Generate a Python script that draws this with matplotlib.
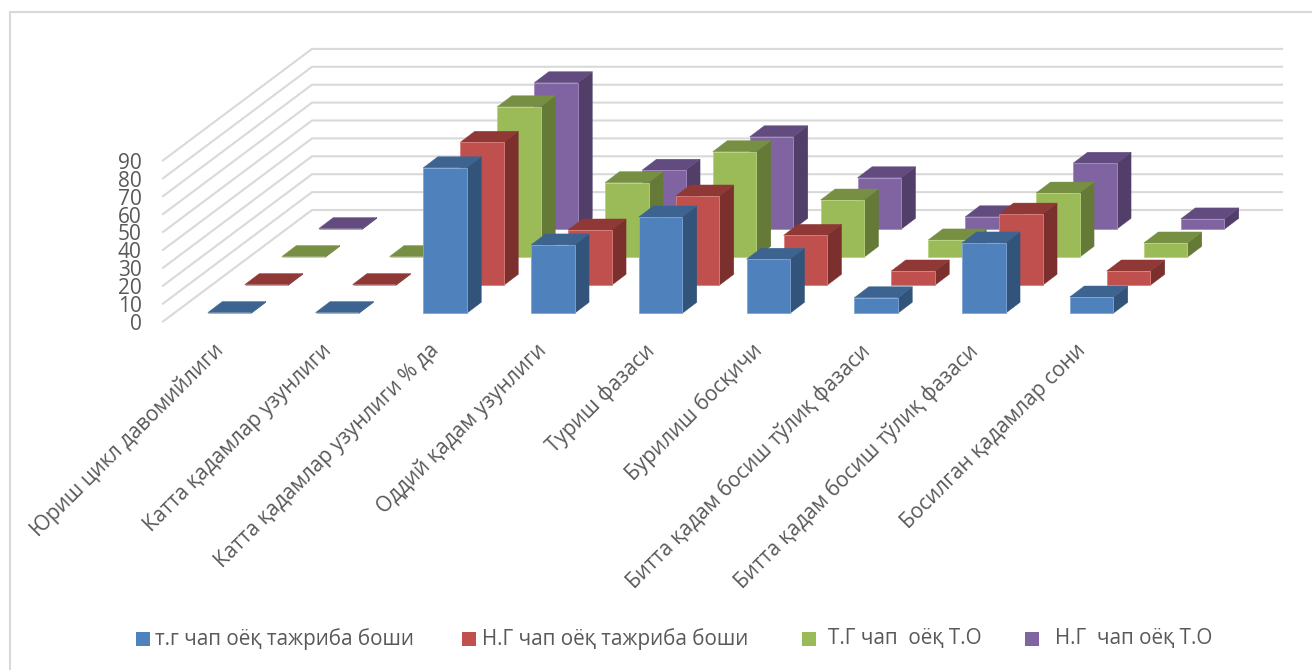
import matplotlib
matplotlib.use("Agg")
import matplotlib.pyplot as plt
from matplotlib.patches import Polygon, Rectangle

plt.rcParams['font.family'] = ['Open Sans', 'Noto Sans', 'DejaVu Sans']

categories = [
    "Юриш цикл давомийлиги",
    "Катта қадамлар узунлиги",
    "Катта қадамлар узунлиги % да",
    "Оддий қадам узунлиги",
    "Туриш фазаси",
    "Бурилиш босқичи",
    "Битта қадам босиш тўлиқ фазаси",
    "Битта қадам босиш тўлиқ фазаси",
    "Босилган қадамлар сони",
]
series_names = [
    "т.г чап оёқ тажриба боши",
    "Н.Г чап оёқ тажриба боши",
    "Т.Г чап  оёқ Т.О",
    "Н.Г  чап оёқ Т.О",
]
tg_start = [0.4, 0.4, 81.3, 38.2, 53.8, 30.2, 8.7, 39.3, 9.1]
ng_start = [0.4, 0.4, 79.9, 30.9, 49.9, 27.9, 8.0, 39.8, 8.0]
tg_after = [0.4, 0.4, 84.1, 41.7, 59.0, 32.0, 9.7, 35.9, 8.0]
ng_after = [0.4, 0.4, 81.9, 33.0, 51.7, 28.8, 7.0, 36.9, 5.8]
y_ticks = [0, 10, 20, 30, 40, 50, 60, 70, 80, 90]

# front, side, top
colors = [
    ("#4F81BD", "#32547A", "#3D6390"),
    ("#C0504D", "#7B302E", "#8F3836"),
    ("#9BBB59", "#657A37", "#778F42"),
    ("#8064A2", "#523F69", "#624B7E"),
]
light_edges = ["#7FA6D6", "#DA7F7C", "#B7D37F", "#A48BC2"]

# oblique projection settings
X0, Y0 = 423.3 - 2 * 107.75, 313.3
CAT_STEP = 107.75
ROW_DX, ROW_DY = 37.0, 28.0
BAR_W, BAR_DX, BAR_DY = 43.5, 14.5, 11.0
UNIT = 1.79
GRID = "#D9D9D9"
TEXT = "#595959"


def project(cat, row, value):
    x = X0 + cat * CAT_STEP + row * ROW_DX
    y = Y0 - row * ROW_DY - value * UNIT
    return x, y


def draw_bar(ax, cat, row, value, zorder):
    x, base = project(cat, row, 0)
    _, top = project(cat, row, value)
    front, side, cap = colors[row]
    ax.add_patch(Polygon([(x + BAR_W, base), (x + BAR_W + BAR_DX, base - BAR_DY),
                          (x + BAR_W + BAR_DX, top - BAR_DY), (x + BAR_W, top)],
                         fc=side, ec=side, lw=0.3, zorder=zorder))
    ax.add_patch(Polygon([(x, top), (x + BAR_W, top), (x + BAR_W + BAR_DX, top - BAR_DY),
                          (x + BAR_DX, top - BAR_DY)],
                         fc=cap, ec=cap, lw=0.3, zorder=zorder))
    ax.add_patch(Rectangle((x, top), BAR_W, base - top, fc=front, ec=light_edges[row],
                           lw=0.6, zorder=zorder))


fig = plt.figure(figsize=(13.12, 6.70), dpi=100)
ax = fig.add_axes([0, 0, 1, 1])
ax.set_xlim(0, 1312)
ax.set_ylim(670, 0)
ax.axis("off")

# chart frame, only the left and top edges fall inside the image
ax.plot([9.5, 9.5, 1312], [670, 12, 12], color=GRID, lw=1.5, solid_joinstyle="miter", zorder=0)

# walls: diagonal floor side plus back gridlines
for tick in y_ticks:
    front_y = 321.5 - tick * UNIT
    back_y = 210.0 - tick * UNIT
    ax.plot([163, 312, 1282], [front_y, back_y, back_y], color=GRID, lw=1.5,
            solid_joinstyle="miter", zorder=1)
    ax.text(141.5, front_y + 3, str(tick), fontsize=15, color=TEXT,
            ha="right", va="center", zorder=2)

# rows from back to front so nearer bars cover the ones behind
all_series = [tg_start, ng_start, tg_after, ng_after]
for row in range(3, -1, -1):
    for cat, value in enumerate(all_series[row]):
        draw_bar(ax, cat, row, value, zorder=10 + (3 - row))

# category labels along the floor front
for i, name in enumerate(categories):
    ax.text(213 + i * CAT_STEP, 340, name, rotation=45, rotation_mode="anchor",
            ha="right", va="top", fontsize=15, color=TEXT)

# legend
swatch_x = [136, 462, 802, 1025]
label_x = [155, 482, 828, 1055]
for row, name in enumerate(series_names):
    ax.add_patch(Rectangle((swatch_x[row], 632), 14, 14, fc=colors[row][0], ec="none"))
    ax.text(label_x[row], 639, name, fontsize=14.9, color=TEXT, ha="left", va="center")

fig.savefig("out.png", dpi=100)
